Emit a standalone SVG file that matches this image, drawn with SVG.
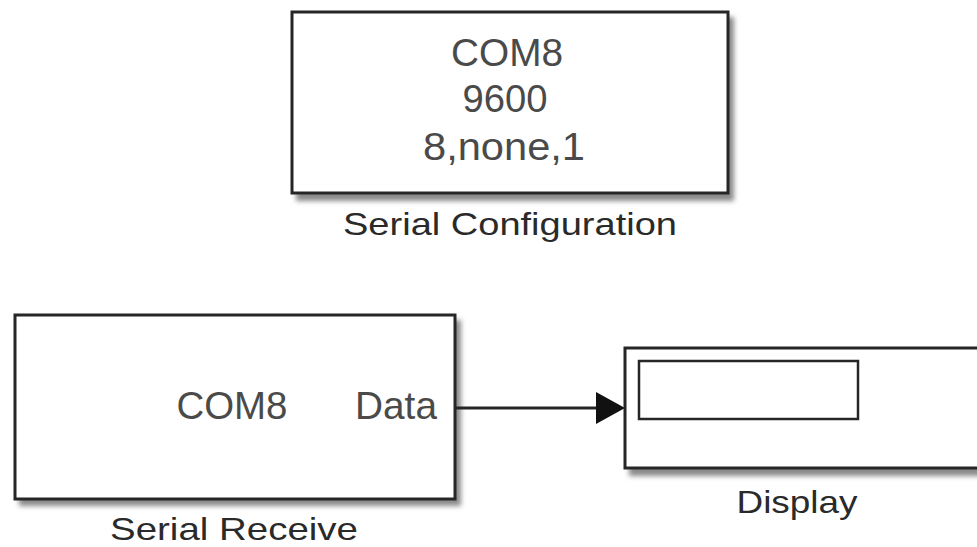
<svg xmlns="http://www.w3.org/2000/svg" width="977" height="547" viewBox="0 0 977 547">
<style>
.box{fill:#fff;stroke:#262626;stroke-width:3}
.shadow{fill:#8a8a8a;filter:url(#blur)}
.inner{font-family:"Liberation Sans",Arial,sans-serif;font-size:39px;fill:#4a4a4a}
.label{font-family:"Liberation Sans",Arial,sans-serif;font-size:32px;fill:#2a2a2a}
.wire{stroke:#262626;stroke-width:3;fill:none}
</style>
<defs>
<filter id="blur" x="-5%" y="-5%" width="110%" height="115%"><feGaussianBlur stdDeviation="2.5"/></filter>
</defs>
<rect width="977" height="547" fill="#fff"/>
<g id="serial-configuration">
<rect class="shadow" x="296" y="17" width="438" height="184"/>
<rect class="box" x="292" y="12" width="436" height="181"/>
<text class="inner" x="507" y="66" text-anchor="middle" textLength="112" lengthAdjust="spacingAndGlyphs">COM8</text>
<text class="inner" x="505" y="112" text-anchor="middle" textLength="85" lengthAdjust="spacingAndGlyphs">9600</text>
<text class="inner" x="504" y="160" text-anchor="middle" textLength="162" lengthAdjust="spacingAndGlyphs">8,none,1</text>
<text class="label" x="510" y="235" text-anchor="middle" textLength="334" lengthAdjust="spacingAndGlyphs">Serial Configuration</text>
</g>
<g id="serial-receive">
<rect class="shadow" x="19" y="320" width="442" height="186"/>
<rect class="box" x="15" y="315" width="440" height="184"/>
<text class="inner" x="232" y="419" text-anchor="middle" textLength="111" lengthAdjust="spacingAndGlyphs">COM8</text>
<text class="inner" x="396" y="419" text-anchor="middle" textLength="82" lengthAdjust="spacingAndGlyphs">Data</text>
<text class="label" x="234" y="540" text-anchor="middle" textLength="248" lengthAdjust="spacingAndGlyphs">Serial Receive</text>
</g>
<g id="display">
<rect class="shadow" x="629" y="353" width="360" height="123"/>
<rect class="box" x="625" y="348" width="360" height="120"/>
<rect class="box" x="639" y="361" width="219" height="58" style="stroke-width:2.5"/>
<text class="label" x="797" y="513" text-anchor="middle" textLength="121" lengthAdjust="spacingAndGlyphs">Display</text>
</g>
<g id="connectors">
<path class="wire" d="M455,408 L596,408"/>
<path d="M596,392 L625,408 L596,424 Z" fill="#111"/>
</g>
</svg>
